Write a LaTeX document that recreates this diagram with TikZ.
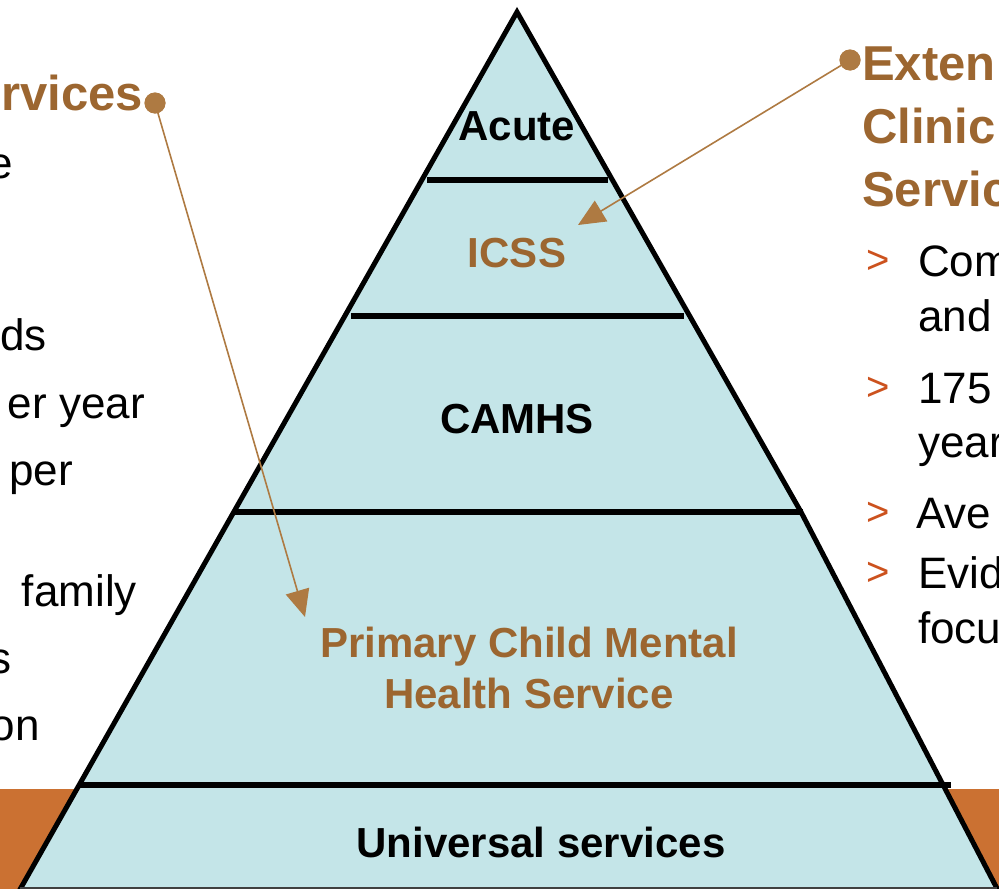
\documentclass[tikz,border=0pt]{standalone}
\usepackage{fontspec}
\setmainfont{Liberation Sans}
\usetikzlibrary{arrows.meta,positioning}
\definecolor{tiercyan}{RGB}{196,229,232}
\definecolor{headbrown}{RGB}{156,102,48}
\definecolor{pinbrown}{RGB}{174,122,66}
\definecolor{bulletred}{RGB}{204,82,30}
\definecolor{groundorange}{RGB}{203,113,50}
\tikzset{%
	tier/.style     = {font=\fontsize{42}{51}\selectfont\bfseries, align=center},
	tierbrown/.style= {tier, text=headbrown},
	divider/.style  = {line width=5.5pt},
	head/.style     = {font=\fontsize{49}{58}\selectfont\bfseries, text=headbrown, inner sep=0pt},
	body/.style     = {font=\fontsize{44}{52}\selectfont, inner sep=0pt},
	bullet/.style   = {font=\fontsize{40}{48}\selectfont, text=bulletred, inner sep=0pt, anchor=base west},
	pin/.style      = {circle, fill=pinbrown, inner sep=0pt, minimum size=21pt},
	pointer/.style  = {pinbrown, line width=1.6pt, -{Triangle[length=27pt,width=24pt]}},
}
\begin{document}
\begin{tikzpicture}[x=1pt,y=-1pt]
	\useasboundingbox (0,0) rectangle (999,889);
	\clip (0,0) rectangle (999,889);
	\fill[groundorange] (0,789) rectangle (999,889);
	% pyramid
	\fill[tiercyan] (517,12) -- (14,900) -- (1003,900) -- (801,512) -- cycle;
	\draw[line width=5pt] (14,900) -- (517,12) -- (801,512) -- (1003,900);
	\draw[line width=2pt, black!75] (20,888) -- (997,888);
	\draw[divider] (427,180) -- (608,180);
	\draw[divider] (351,316) -- (684,316);
	\draw[divider] (233,512) -- (803,512);
	\draw[divider] (80,785) -- (951,785);
	\node[tier, anchor=base] (acute) at (517,140) {Acute};
	\node[tierbrown, anchor=base] (icss) at (517,267) {ICSS};
	\node[tier, anchor=base] (camhs) at (517,433) {CAMHS};
	\node[tierbrown] (primary) at (529,668) {Primary Child Mental\\Health Service};
	\node[tier, anchor=base] (universal) at (541,857) {Universal services};
	% left column, cut off by the frame
	\node[head, anchor=base east] (lhead) at (143,110) {rvices};
	\node[body, anchor=base east] (l1) at (13,178) {e};
	\node[body, anchor=base east] (l2) at (47,350) {ds};
	\node[body, anchor=base east] (l3) at (145,418) {er year};
	\node[body, anchor=base east] (l4) at (73,485) {per};
	\node[body, anchor=base east] (l5) at (137,606) {family};
	\node[body, anchor=base east] (l6) at (12,673) {s};
	\node[body, anchor=base east] (l7) at (40,740) {on};
	% right column, cut off by the frame
	\node[head, anchor=base west] (rhead1) at (862,80) {Exten};
	\node[head, anchor=base west] (rhead2) at (862,143) {Clinic};
	\node[head, anchor=base west] (rhead3) at (862,206) {Servic};
	\node[bullet] (b1) at (866,273) {>};
	\node[bullet] (b2) at (866,400) {>};
	\node[bullet] (b3) at (866,525) {>};
	\node[bullet] (b4) at (866,585) {>};
	\node[body, anchor=base west] (r1) at (918,276) {Com};
	\node[body, anchor=base west] (r2) at (918,331) {and};
	\node[body, anchor=base west] (r3) at (918,403) {175};
	\node[body, anchor=base west] (r4) at (918,457) {year};
	\node[body, anchor=base west] (r5) at (916,528) {Ave};
	\node[body, anchor=base west] (r6) at (918,588) {Evid};
	\node[body, anchor=base west] (r7) at (918,643) {focu};
	% pointers
	\coordinate (lefttip) at (305,617);
	\coordinate (righttip) at (578,225);
	\node[pin] (leftpin) at (155,103) {};
	\node[pin] (rightpin) at (850,60) {};
	\draw[pointer] (leftpin.center) -- (lefttip);
	\draw[pointer] (rightpin.center) -- (righttip);
	\node[pin] at (leftpin) {};
	\node[pin] at (rightpin) {};
\end{tikzpicture}
\end{document}
